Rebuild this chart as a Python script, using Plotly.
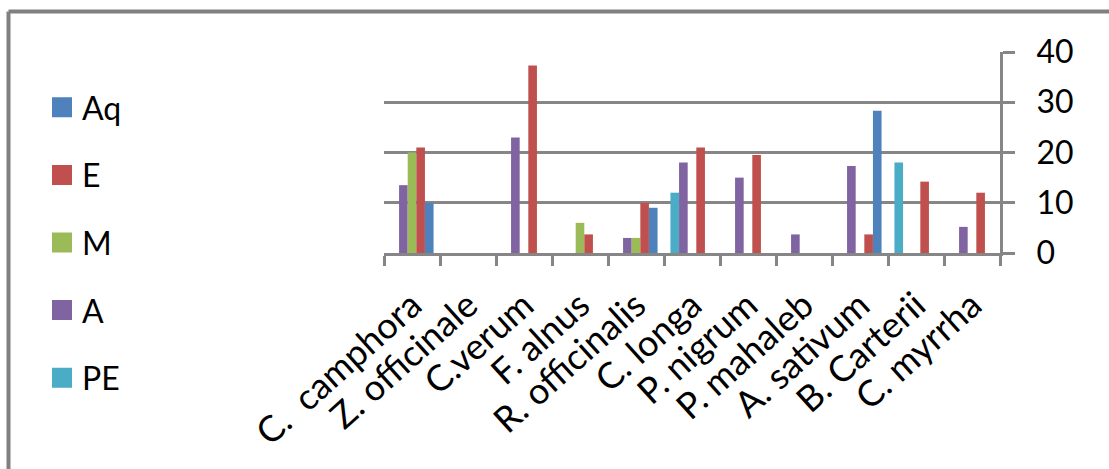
import plotly.graph_objects as go

# Plant extracts and their values per solvent
plants = ["C.  camphora", "Z. officinale", "C.verum", "F. alnus", "R. officinalis",
          "C. longa", "P. nigrum", "P. mahaleb", "A. sativum", "B. Carterii", "C. myrrha"]
aq = [10, 0, 0, 0, 9, 0, 0, 0, 28.3, 0, 0]
e = [21, 0, 37.3, 3.7, 10, 21, 19.5, 0, 3.7, 14.2, 12]
m = [20, 0, 0, 6, 3, 0, 0, 0, 0, 0, 0]
a = [13.5, 0, 23, 0, 3, 18, 15, 3.7, 17.3, 0, 5.2]
pe = [0, 0, 0, 0, 0, 12, 0, 0, 0, 18, 0]

series_names = ["Aq", "E", "M", "A", "PE"]
series_values = {"Aq": aq, "E": e, "M": m, "A": a, "PE": pe}
colors = {"Aq": "#4F81BD", "E": "#C0504D", "M": "#9BBB59", "A": "#8064A2", "PE": "#4BACC6"}

# bars are drawn in reverse legend order within each group
bar_order = ["PE", "A", "M", "E", "Aq"]

FONT = "Lato"
GRAY = "#868686"

fig = go.Figure()
for name in bar_order:
    fig.add_trace(go.Bar(
        x=plants, y=series_values[name], name=name,
        marker=dict(color=colors[name], line=dict(width=0)),
        showlegend=False,
    ))

# legend entries with larger square swatches
for name in series_names:
    fig.add_trace(go.Scatter(
        x=[None], y=[None], mode="markers", name=name, legendgroup=name,
        marker=dict(symbol="square", size=16, color=colors[name],
                    line=dict(color=colors[name], width=4)),
        showlegend=True,
    ))

W, H = 1109, 469
L, R, T, B = 384, 109, 52, 216
pw, ph = W - L - R, H - T - B


def px_x(p):
    return (p - L) / pw


def px_y(p):
    return (H - B - p) / ph


fig.update_layout(
    width=W, height=H,
    margin=dict(l=L, r=R, t=T, b=B, pad=0),
    paper_bgcolor="white", plot_bgcolor="white",
    barmode="group", bargap=0.23, bargroupgap=0,
    font=dict(family=FONT, size=32, color="#000000"),
    showlegend=True,
    legend=dict(
        x=px_x(42), y=px_y(80), xanchor="left", yanchor="top",
        font=dict(family=FONT, size=32, color="#000000"),
        tracegroupgap=23, bgcolor="rgba(0,0,0,0)", maxheight=440,
        itemclick=False, itemdoubleclick=False,
    ),
    xaxis=dict(
        type="category", showgrid=False, showline=True, linecolor=GRAY, linewidth=3,
        ticks="outside", tickson="boundaries", ticklen=10, tickwidth=3, tickcolor=GRAY,
        tickangle=-42, tickfont=dict(family=FONT, size=36, color="#000000"),
        ticklabelstandoff=14,
    ),
    yaxis=dict(
        side="right", range=[0, 40], dtick=10, showgrid=True, gridcolor=GRAY, gridwidth=3,
        showline=True, linecolor=GRAY, linewidth=3, zeroline=False,
        ticks="outside", ticklen=12, tickwidth=3, tickcolor=GRAY,
        tickfont=dict(family=FONT, size=32, color="#000000"),
        ticklabelstandoff=15,
    ),
    shapes=[
        dict(type="line", xref="paper", yref="paper", x0=px_x(8.5), x1=px_x(W + 5),
             y0=px_y(11.5), y1=px_y(11.5), line=dict(color="#808080", width=4)),
        dict(type="line", xref="paper", yref="paper", x0=px_x(8.5), x1=px_x(8.5),
             y0=px_y(11.5), y1=px_y(H + 5), line=dict(color="#808080", width=4)),
    ],
)

fig.write_html("out.html")
